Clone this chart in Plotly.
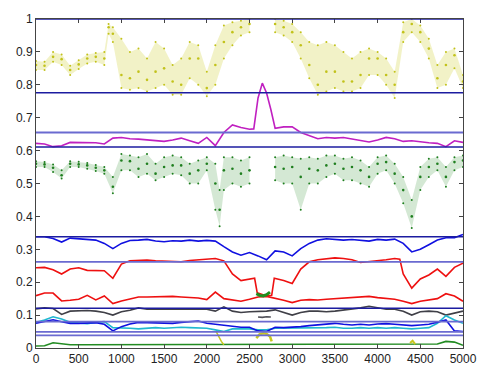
import numpy as np
import plotly.graph_objects as go

nan = float("nan")

# ---------------- data ----------------
T = list(range(0, 5001, 100))

blue_hi = [.338, .338, .333, .322, .334, .332, .330, .328, .318, .302, .318, .327, .328, .330, .325, .323,
           .326, .325, .328, .325, .327, .325, .308, .292, .282, .290, .280, .268, .295, .292, .280, .302,
           .318, .328, .332, .330, .328, .330, .327, .325, .330, .328, .331, .318, .292, .300, .314, .328,
           .335, .335, .345]

red_hi_t = [0, 100, 200, 300, 400, 500, 600, 700, 800, 900, 1000, 1100, 1200, 1300, 1400, 1500, 1600, 1700,
            1800, 1900, 2000, 2100, 2200, 2300, 2400, 2500, 2560, 2590, 2650, 2700, 2760, 2790, 2900, 3000,
            3100, 3200, 3300, 3400, 3500, 3600, 3700, 3800, 3900, 4000, 4100, 4200, 4260, 4300, 4400, 4500,
            4600, 4700, 4800, 4900, 5000]
red_hi = [.244, .245, .238, .225, .240, .244, .236, .236, .235, .212, .255, .265, .266, .267, .265, .264,
          .264, .262, .266, .268, .270, .272, .265, .225, .205, .208, .212, .168, .162, .158, .160, .212,
          .205, .196, .240, .262, .268, .270, .274, .272, .268, .260, .262, .265, .268, .272, .270, .225,
          .182, .210, .222, .240, .218, .245, .258]

red_lo = [.159, .167, .167, .143, .145, .148, .160, .146, .158, .135, .143, .150, .155, .155, .156, .157,
          .157, .155, .154, .152, .147, .170, .150, .145, .142, .148, .155, .157, .152, .145, .138, .145,
          .147, .146, .148, .150, .150, .153, .155, .157, .153, .150, .148, .142, .135, .142, .145, .150,
          .165, .158, .142]

grey = [.119, .122, .120, .102, .112, .114, .114, .112, .108, .100, .110, .115, .122, .118, .118, .117,
        .118, .119, .118, .117, .118, .112, .125, .112, .108, .110, .110, .112, .116, .108, .100, .108,
        .112, .112, .110, .112, .115, .118, .122, .127, .122, .118, .118, .112, .100, .110, .112, .110,
        .100, .105, .112]

blue_lo = [.075, .080, .086, .080, .075, .075, .076, .077, .072, .052, .065, .073, .078, .077, .076, .077,
           .075, .078, .079, .082, .075, .072, .068, .065, .063, .063, .052, .050, .063, .062, .063, .065,
           .068, .070, .072, .075, .072, .070, .072, .070, .073, .074, .072, .070, .068, .070, .072, .078,
           .085, .052, .050]

cyan = [.078, .085, .095, .088, .078, .076, .074, .078, .080, .062, .062, .060, .058, .060, .062, .060,
        .062, .063, .062, .060, .060, .055, .050, .058, .058, .058, .055, .055, .060, .060, .062, .060,
        .060, .062, .062, .063, .060, .060, .062, .060, .062, .060, .062, .060, .058, .060, .062, .075,
        .098, .085, .075]

green_lo = [.006, .007, .016, .012, .010, .010, .010, .011, .010, .010, .011, .011, .012, .011, .011, .012,
            .012, .011, .012, .012, .012, .011, .010, .011, .012, .012, .010, .010, .011, .012, .011, .011,
            .012, .012, .011, .012, .012, .011, .012, .012, .012, .012, .011, .011, .010, .011, .011, .012,
            .020, .018, .008]

mag_t = [0, 100, 200, 300, 400, 500, 600, 700, 800, 900, 1000, 1100, 1200, 1300, 1400, 1500, 1600, 1700,
         1800, 1900, 2000, 2100, 2200, 2300, 2400, 2500, 2550, 2600, 2650, 2700, 2750, 2800, 2900, 3000,
         3100, 3200, 3300, 3400, 3500, 3600, 3700, 3800, 3900, 4000, 4100, 4200, 4300, 4400, 4500, 4600,
         4700, 4800, 4900, 5000]
magenta = [.622, .620, .612, .615, .625, .625, .624, .624, .620, .638, .640, .636, .635, .632, .630, .628,
           .632, .638, .630, .622, .640, .615, .655, .678, .670, .665, .666, .760, .805, .775, .725, .668,
           .672, .672, .655, .645, .636, .640, .638, .640, .636, .632, .626, .632, .640, .636, .628, .630,
           .626, .624, .622, .612, .630, .625]

yel_t = [0, 100, 200, 300, 400, 500, 600, 700, 800, 850, 900, 1000, 1100, 1200, 1300, 1400, 1500, 1600,
         1700, 1800, 1900, 2000, 2100, 2200, 2300, 2400, 2500, nan, 2800, 2900, 3000, 3100, 3200, 3300,
         3400, 3500, 3600, 3700, 3800, 3900, 4000, 4100, 4200, 4300, 4400, 4500, 4600, 4700, 4800, 4900, 5000]
yel_mid = [.860, .858, .885, .878, .845, .862, .880, .885, .880, .975, .955, .830, .820, .840, .815, .840,
           .850, .810, .800, .880, .880, .790, .860, .930, .960, .975, .985, nan, .985, .975, .960, .920,
           .860, .800, .840, .840, .810, .810, .830, .880, .880, .830, .800, .960, .985, .960, .910, .820,
           .860, .890, .810]
yel_low = [.845, .845, .870, .860, .830, .848, .865, .870, .860, .955, .930, .790, .785, .790, .780, .790,
           .800, .770, .770, .820, .800, .765, .800, .880, .920, .950, .960, nan, .960, .950, .930, .880,
           .820, .770, .780, .790, .780, .780, .790, .830, .830, .800, .760, .930, .960, .930, .880, .790,
           .800, .850, .790]
yel_high = [.872, .870, .900, .892, .858, .875, .892, .897, .900, .985, .975, .940, .900, .910, .880, .930,
            .910, .860, .880, .930, .920, .840, .920, .980, .990, .995, 1.0, nan, 1.0, .995, .985, .960,
            .930, .920, .930, .920, .900, .880, .900, .910, .900, .880, .840, .990, 1.0, .980, .940, .860,
            .900, .910, .830]

grn_t = [0, 100, 200, 300, 400, 500, 600, 700, 800, 900, 1000, 1100, 1200, 1300, 1400, 1500, 1600, 1700,
         1800, 1900, 2000, 2100, 2150, 2200, 2300, 2400, 2500, nan, 2800, 2900, 3000, 3100, 3200, 3300,
         3400, 3500, 3600, 3700, 3800, 3900, 4000, 4100, 4200, 4300, 4400, 4500, 4600, 4700, 4800, 4900, 5000]
grn_mid = [.560, .558, .548, .525, .560, .558, .555, .548, .540, .490, .570, .568, .545, .560, .530, .550,
           .555, .555, .530, .540, .560, .500, .420, .540, .545, .530, .540, nan, .550, .545, .550, .520,
           .545, .540, .555, .560, .545, .550, .540, .520, .560, .565, .530, .480, .400, .520, .550, .560,
           .520, .565, .570]
grn_low = [.550, .550, .535, .515, .550, .550, .545, .538, .530, .470, .540, .540, .520, .530, .510, .520,
           .530, .525, .500, .500, .540, .420, .370, .480, .500, .490, .500, nan, .510, .500, .500, .420,
           .500, .500, .520, .530, .510, .510, .500, .490, .530, .540, .500, .440, .365, .480, .520, .540,
           .490, .540, .550]
grn_high = [.568, .565, .558, .540, .568, .566, .562, .556, .550, .520, .590, .585, .580, .590, .560, .580,
            .585, .580, .560, .570, .580, .560, .480, .580, .580, .570, .580, nan, .580, .585, .580, .575,
            .580, .575, .585, .585, .575, .580, .570, .550, .580, .585, .560, .520, .450, .550, .575, .580,
            .550, .580, .585]

# outlier clusters
grn_dip_t = [2580, 2620, 2660, 2700, 2740]
grn_dip = [.165, .160, .158, .162, .170]
yel_dip_t = [2580, 2620, 2660, 2700, 2740, 2760]
yel_dip = [.030, .042, .045, .043, .035, .020]
yel_dip2_t = [2110, 2140, 2170, 2200]
yel_dip2 = [.050, .035, .020, .010]
yel_dip3_t = [4380, 4410, 4440]
yel_dip3 = [.015, .022, .012]
grey_dip_t = [2600, 2650, 2700, 2750]
grey_dip = [.094, .093, .095, .094]

hlines_dark = [1.0, 0.776, 0.611, 0.338, 0.121]
hlines_light = [0.655, 0.262, 0.080, 0.049, 0.0385]

x_ticks = list(range(0, 5001, 500))
y_ticks = [0, 0.1, 0.2, 0.3, 0.4, 0.5, 0.6, 0.7, 0.8, 0.9, 1]
y_tick_text = ["0", "0.1", "0.2", "0.3", "0.4", "0.5", "0.6", "0.7", "0.8", "0.9", "1"]

# ---------------- figure ----------------
fig = go.Figure()


def segments(t, *cols):
    t = np.array(t, dtype=float)
    arrs = [np.array(c, dtype=float) for c in cols]
    out, cur = [], []
    for i in range(len(t)):
        if np.isnan(t[i]):
            if cur:
                out.append(cur)
            cur = []
        else:
            cur.append(i)
    if cur:
        out.append(cur)
    return [(t[idx], [a[idx] for a in arrs]) for idx in [np.array(s) for s in out]]


def cloud(t, mid, lo, hi, band, dot):
    for ts, (m, l, h) in segments(t, mid, lo, hi):
        fig.add_trace(go.Scatter(x=np.concatenate([ts, ts[::-1]]), y=np.concatenate([h, l[::-1]]),
                                 fill="toself", fillcolor=band, line=dict(width=0), mode="lines",
                                 hoverinfo="skip"))
        for arr, s in ((m, 2.6), (l, 2), (h, 2)):
            fig.add_trace(go.Scatter(x=ts, y=arr, mode="markers",
                                     marker=dict(color=dot, size=s, line=dict(width=0))))


def curve(t, y, color, w=1.6):
    fig.add_trace(go.Scatter(x=t, y=y, mode="lines", line=dict(color=color, width=w)))


cloud(yel_t, yel_mid, yel_low, yel_high, "rgba(205,205,40,0.26)", "#c2c21a")
cloud(grn_t, grn_mid, grn_low, grn_high, "rgba(40,140,40,0.20)", "#1f7f1f")

curve(mag_t, magenta, "#c020c0")
curve(T, blue_hi, "#1010e0")
curve(red_hi_t, red_hi, "#ee1010")
curve(T, red_lo, "#ee1010")
curve(T, grey, "#404048")
curve(T, cyan, "#20b8d0")
curve(T, blue_lo, "#1010e0")
curve(T, green_lo, "#228b22")

curve(grn_dip_t, grn_dip, "#1f8f1f", 3)
curve(yel_dip_t, yel_dip, "#c8c820", 2.5)
curve(yel_dip2_t, yel_dip2, "#c8c820", 1.5)
curve(yel_dip3_t, yel_dip3, "#c8c820", 2)
curve(grey_dip_t, grey_dip, "#505058", 1.6)

shapes = []
for v in hlines_dark:
    shapes.append(dict(type="line", xref="paper", x0=0, x1=1, yref="y", y0=v, y1=v,
                       line=dict(color="#1c1ca0", width=1.4)))
for v in hlines_light:
    shapes.append(dict(type="line", xref="paper", x0=0, x1=1, yref="y", y0=v, y1=v,
                       line=dict(color="#6a6ad0", width=1.8)))

axis_common = dict(showline=True, mirror="ticks", linecolor="#444", linewidth=1, ticks="inside",
                   ticklen=4, tickcolor="#444", showgrid=False, zeroline=False,
                   ticklabeloverflow="allow",
                   tickfont=dict(family="Liberation Sans, Arial", size=12, color="#222"))

fig.update_layout(
    width=489, height=378,
    margin=dict(l=36, r=13, t=16, b=17),
    paper_bgcolor="white", plot_bgcolor="white",
    showlegend=False,
    shapes=shapes,
    xaxis=dict(range=[0, 5000], tickvals=x_ticks, **axis_common),
    yaxis=dict(range=[0, 1], tickvals=y_ticks, ticktext=y_tick_text, **axis_common),
)

fig.write_html("out.html")
